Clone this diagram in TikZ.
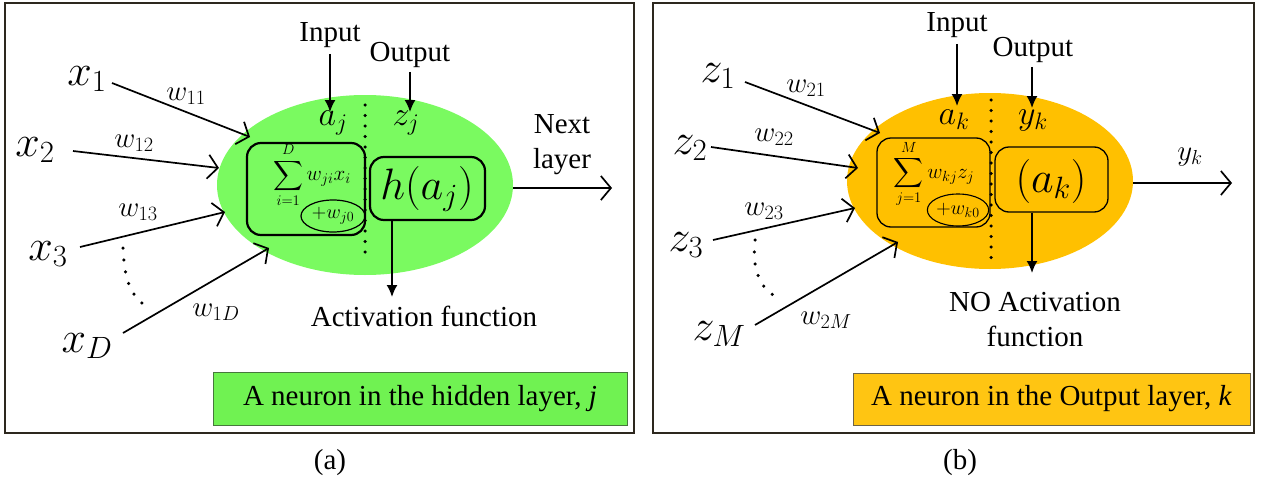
\RequirePackage{fix-cm}
\documentclass[tikz,border=0pt]{standalone}
\usepackage{exscale}
\usepackage[no-math]{fontspec}
\setmainfont{Liberation Serif}
\usetikzlibrary{arrows.meta,shapes.geometric}
\definecolor{gE}{RGB}{122,250,96}
\definecolor{gB}{RGB}{112,242,82}
\definecolor{gBd}{RGB}{70,120,60}
\definecolor{oE}{RGB}{255,192,0}
\definecolor{oB}{RGB}{255,197,18}
\definecolor{oBd}{RGB}{110,100,70}
\definecolor{frm}{RGB}{45,40,30}
\begin{document}
\begin{tikzpicture}[x=1pt,y=-1pt,
  frame/.style={draw=frm,line width=1.8pt},
  barrow/.style={-{Straight Barb[length=10pt,width=24pt]},line width=1.7pt},
  farrow/.style={-{Latex[length=12pt,width=11pt]},line width=1.7pt},
  rboxa/.style={draw,rounded corners=14pt,line width=2.2pt,inner sep=0pt},
  rboxb/.style={draw,rounded corners=14pt,line width=1.3pt,inner sep=0pt},
  dotline/.style={line width=3.5pt,line cap=round,dash pattern=on 0pt off 10.5pt},
  dotarc/.style={line width=3.5pt,line cap=round,dash pattern=on 0pt off 12pt},
  txt/.style={font=\fontsize{29}{35}\selectfont,inner sep=0pt,align=center},
  big/.style={font=\fontsize{44}{50}\selectfont,inner sep=0pt},
  wlab/.style={font=\fontsize{29}{32}\selectfont,inner sep=0pt},
  mid/.style={font=\fontsize{34}{38}\selectfont,inner sep=0pt},
  small/.style={font=\fontsize{20}{22}\selectfont,inner sep=0pt},
  sumf/.style={font=\fontsize{21}{23}\selectfont,inner sep=0pt},
  blob/.style={ellipse,inner sep=0pt},
  capbox/.style={draw,line width=0.8pt,inner sep=0pt,font=\fontsize{29}{35}\selectfont}
]
\useasboundingbox (0,0) rectangle (1263,487);

% ================= panel (a) =================
\draw[frame] (5,3) rectangle (634,433);
\node[blob,fill=gE,minimum width=296pt,minimum height=180pt] (ella) at (365,185) {};
\node[rboxa,minimum width=118pt,minimum height=92pt] (suma) at (306,189) {};
\node[sumf] (sumta) at (312,175) {$\displaystyle\sum_{i=1}^{D} w_{ji}x_i$};
\node[blob,draw,line width=1.2pt,minimum width=64pt,minimum height=32pt,small] (biasa) at (333,216) {$+w_{j0}$};
\node[rboxa,minimum width=115pt,minimum height=63pt] (hboxa) at (427.5,188.5) {};
\node[big] (ha) at (427,189) {$h(a_j)$};
\coordinate (dta) at (365,105);
\coordinate (dba) at (365,262);
\draw[dotline] (dta) -- (dba);

\node[mid] (aj) at (333,123) {$a_j$};
\node[mid] (zj) at (406,123) {$z_j$};
\node[txt] (inA) at (330,35) {Input};
\node[txt] (outA) at (410,55) {Output};
\coordinate (inAt) at (330,112);
\coordinate (outAt) at (410,112);
\draw[farrow] (inA.south) ++(0,6) -- (inAt);
\draw[farrow] (outA.south) ++(0,4) -- (outAt);

\node[txt] (nextA) at (562,145) {Next\\layer};
\coordinate (nextAt) at (612,188);
\draw[barrow] (ella.east |- nextAt) -- (nextAt);

\coordinate (actAt) at (392,297);
\draw[farrow] (hboxa.south -| actAt) -- (actAt);
\node[txt] (actA) at (424,316) {Activation function};

\node[big] (x1) at (87,79) {$x_1$};
\node[big] (x2) at (35,150) {$x_2$};
\node[big] (x3) at (48,254) {$x_3$};
\node[big] (xD) at (87,346) {$x_D$};
\coordinate (s1) at (112,83);  \coordinate (t1) at (250,137);
\coordinate (s2) at (73,151);  \coordinate (t2) at (219,168);
\coordinate (s3) at (80,247);  \coordinate (t3) at (225,212);
\coordinate (sD) at (123,333); \coordinate (tD) at (269,248);
\draw[barrow] (s1) -- (t1);
\draw[barrow] (s2) -- (t2);
\draw[barrow] (s3) -- (t3);
\draw[barrow] (sD) -- (tD);
\node[wlab] (w11) at (186,96) {$w_{11}$};
\node[wlab] (w12) at (134,143) {$w_{12}$};
\node[wlab] (w13) at (138,212) {$w_{13}$};
\node[wlab] (w1D) at (216,312) {$w_{1D}$};
\coordinate (da1) at (123,248);
\coordinate (da2) at (142,303);
\draw[dotarc] (da1) .. controls (124,272) and (128,292) .. (da2);

\node[capbox,draw=gBd,fill=gB,minimum width=414pt,minimum height=53pt] (capA) at (420,398.5) {A neuron in the hidden layer, \textit{j}};
\node[txt] (labA) at (330,463) {(a)};

% ================= panel (b) =================
\draw[frame] (653,3) rectangle (1254,433);
\node[blob,fill=oE,minimum width=286pt,minimum height=176pt] (ellb) at (990,181) {};
\node[rboxb,minimum width=113pt,minimum height=89pt] (sumb) at (933.5,182.5) {};
\node[sumf] (sumtb) at (934,174) {$\displaystyle\sum_{j=1}^{M} w_{kj}z_j$};
\node[blob,draw,line width=1.1pt,minimum width=60pt,minimum height=32pt,small] (biasb) at (958,210) {$+w_{k0}$};
\node[rboxb,minimum width=113pt,minimum height=65pt] (hboxb) at (1051.5,179.5) {};
\node[big] (hb) at (1051,181) {$(a_k)$};
\coordinate (dtb) at (991,100);
\coordinate (dbb) at (991,260);
\draw[dotline] (dtb) -- (dbb);

\node[mid] (ak) at (954,120) {$a_k$};
\node[mid] (yk) at (1033,120) {$y_k$};
\node[txt] (inB) at (957,25) {Input};
\node[txt] (outB) at (1033,50) {Output};
\coordinate (inBt) at (957,106);
\coordinate (outBt) at (1032,108);
\draw[farrow] (inB.south) ++(0,6) -- (inBt);
\draw[farrow] (outB.south) ++(-1,4) -- (outBt);

\node[wlab] (ykout) at (1190,157) {$y_k$};
\coordinate (outBt2) at (1232,183);
\draw[barrow] (ellb.east |- outBt2) -- (outBt2);

\coordinate (actBt) at (1032,273);
\draw[farrow] (hboxb.south -| actBt) -- (actBt);
\node[txt] (actB) at (1035,320) {NO Activation\\function};

\node[big] (z1) at (718,76) {$z_1$};
\node[big] (z2) at (690,148) {$z_2$};
\node[big] (z3) at (686,245) {$z_3$};
\node[big] (zM) at (719,334) {$z_M$};
\coordinate (u1) at (745,82);  \coordinate (v1) at (880,133);
\coordinate (u2) at (711,147); \coordinate (v2) at (858,168);
\coordinate (u3) at (713,240); \coordinate (v3) at (855,208);
\coordinate (uM) at (755,325); \coordinate (vM) at (898,242);
\draw[barrow] (u1) -- (v1);
\draw[barrow] (u2) -- (v2);
\draw[barrow] (u3) -- (v3);
\draw[barrow] (uM) -- (vM);
\node[wlab] (w21) at (806,88) {$w_{21}$};
\node[wlab] (w22) at (774,137) {$w_{22}$};
\node[wlab] (w23) at (764,211) {$w_{23}$};
\node[wlab] (w2M) at (826,320) {$w_{2M}$};
\coordinate (db1) at (755,240);
\coordinate (db2) at (773,295);
\draw[dotarc] (db1) .. controls (752,265) and (758,285) .. (db2);

\node[capbox,draw=oBd,fill=oB,minimum width=397pt,minimum height=52pt] (capB) at (1051.5,399) {A neuron in the Output layer, \textit{k}};
\node[txt] (labB) at (960,463) {(b)};
\end{tikzpicture}
\end{document}
